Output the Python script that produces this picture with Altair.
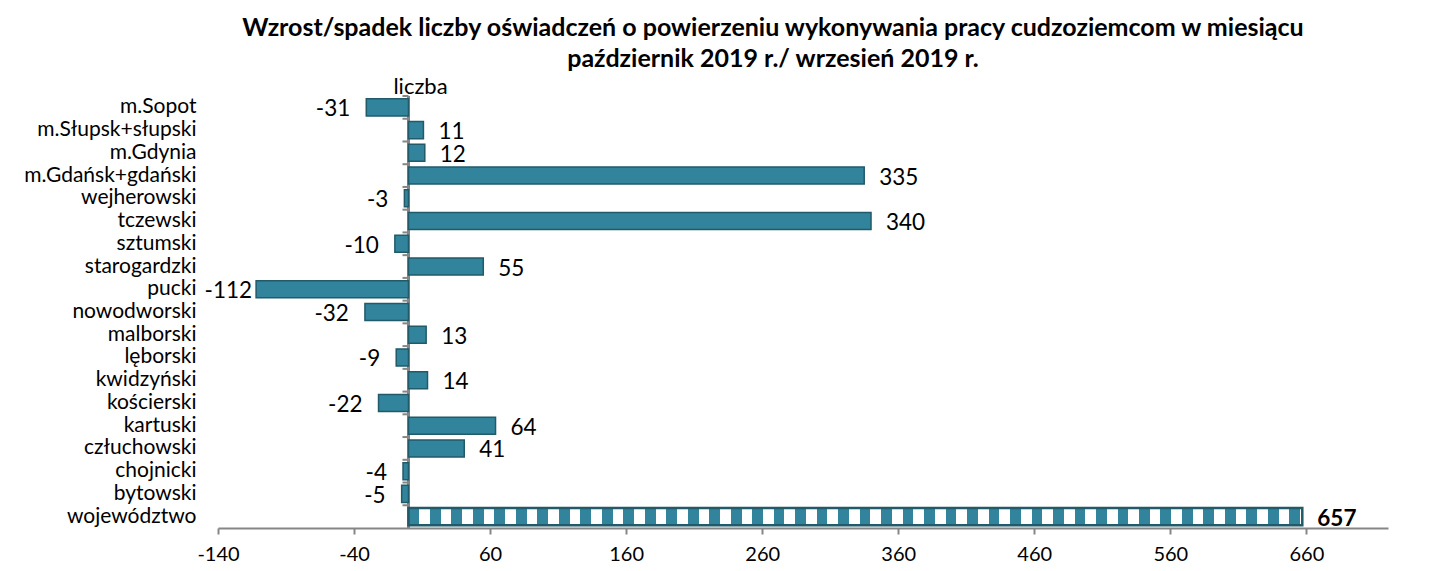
import altair as alt
import pandas as pd

categories = ["m.Sopot", "m.Słupsk+słupski", "m.Gdynia", "m.Gdańsk+gdański", "wejherowski",
              "tczewski", "sztumski", "starogardzki", "pucki", "nowodworski", "malborski",
              "lęborski", "kwidzyński", "kościerski", "kartuski", "człuchowski", "chojnicki",
              "bytowski", "województwo"]
values = [-31, 11, 12, 335, -3, 340, -10, 55, -112, -32, 13, -9, 14, -22, 64, 41, -4, -5, 657]
x_ticks = [-140, -40, 60, 160, 260, 360, 460, 560, 660]
title_lines = ["Wzrost/spadek liczby oświadczeń o powierzeniu wykonywania pracy cudzoziemcom w miesiącu",
               "październik 2019 r./ wrzesień 2019 r."]
total_name = "województwo"

df = pd.DataFrame({"cat": categories, "val": values})

FONT = "Lato"
TEAL = "#31849B"
DARK = "#215A69"
GRAY = "#868686"

# checker-like stripes for the total bar
n_per = 41.6
stops = []
i = 0
while i / n_per < 1:
    a = i / n_per
    b = min((i + 0.5) / n_per, 1)
    c = min((i + 1) / n_per, 1)
    stops += [alt.GradientStop(offset=a, color=TEAL), alt.GradientStop(offset=b, color=TEAL),
              alt.GradientStop(offset=b, color="#ffffff"), alt.GradientStop(offset=c, color="#ffffff")]
    i += 1
grad = alt.LinearGradient(gradient="linear", x1=0, x2=1, y1=0, y2=0, stops=stops)

xscale = alt.Scale(domain=[-140, 720], nice=False, zero=False)
yscale = alt.Scale(domain=categories, paddingInner=0.25, paddingOuter=0.125)

base = alt.Chart(df).transform_calculate(lab="toString(datum.val)").encode(
    y=alt.Y("cat:N", sort=categories, scale=yscale,
            axis=alt.Axis(title="liczba", titleAngle=0, titleX=202, titleY=-3, titleAlign="center",
                          titleBaseline="alphabetic", titleFont=FONT, titleFontSize=22,
                          titleFontWeight="normal", titleColor="#000000",
                          domain=False, ticks=False, labelPadding=22, labelFont=FONT,
                          labelFontSize=21, labelColor="#000000")),
)

xenc = alt.X("val:Q", scale=xscale,
             axis=alt.Axis(title=None, values=x_ticks, grid=False, domainColor=GRAY, domainWidth=2,
                           tickColor=GRAY, tickWidth=2, tickSize=6, labelPadding=10, labelFont=FONT,
                           labelFontSize=20, labelColor="#000000", labelFlush=False,
                           labelExpr="toString(datum.value)"))

bars = base.transform_filter(alt.datum.cat != total_name).mark_bar(
    fill=TEAL, stroke=DARK, strokeWidth=1.5).encode(x=xenc)
total = base.transform_filter(alt.datum.cat == total_name).mark_bar(
    fill=grad, stroke=DARK, strokeWidth=2.5).encode(x=xenc)

LAB = 22.5
pos_lab = base.transform_filter((alt.datum.val >= 0) & (alt.datum.cat != total_name)).mark_text(
    align="left", baseline="middle", dx=15, dy=2, font=FONT, fontSize=LAB, color="#000000"
).encode(x=xenc, text="lab:N")
neg_lab = base.transform_filter((alt.datum.val < 0) & (alt.datum.val > -100)).mark_text(
    align="right", baseline="middle", dx=-16, dy=2, font=FONT, fontSize=LAB, color="#000000"
).encode(x=xenc, text="lab:N")
neg_big = base.transform_filter(alt.datum.val <= -100).mark_text(
    align="right", baseline="middle", dx=-4, dy=2, font=FONT, fontSize=LAB, color="#000000"
).encode(x=xenc, text="lab:N")
tot_lab = base.transform_filter(alt.datum.cat == total_name).mark_text(
    align="left", baseline="middle", dx=15, dy=2, font=FONT, fontSize=LAB, fontWeight="bold",
    color="#000000"
).encode(x=xenc, text="lab:N")

zero = alt.Chart(df).mark_rule(color=GRAY, strokeWidth=2).encode(x=alt.datum(0))

main = alt.layer(zero, bars, total, pos_lab, neg_lab, neg_big, tot_lab)

ticks = alt.Chart(df).mark_rule(color=GRAY, strokeWidth=2).encode(
    y=alt.Y("cat:N", sort=categories, bandPosition=0,
            scale=alt.Scale(domain=categories, paddingInner=0, paddingOuter=0), axis=None),
    x=alt.datum(0), x2=alt.datum(-4.4),
)

chart = alt.layer(main, ticks).resolve_scale(y="independent").properties(
    width=1170, height=432,
    background="#ffffff",
    padding={"left": 210, "top": 88, "right": 40, "bottom": 35},
    autosize=alt.AutoSizeParams(type="none"),
    title=alt.TitleParams(text=title_lines, font=FONT, fontSize=25, fontWeight="bold",
                          color="#000000", anchor="middle", dx=-30, offset=3, lineHeight=31),
).configure_view(stroke="transparent", strokeWidth=0)

chart.save("out.html", embed_options={"renderer": "svg", "actions": False})
